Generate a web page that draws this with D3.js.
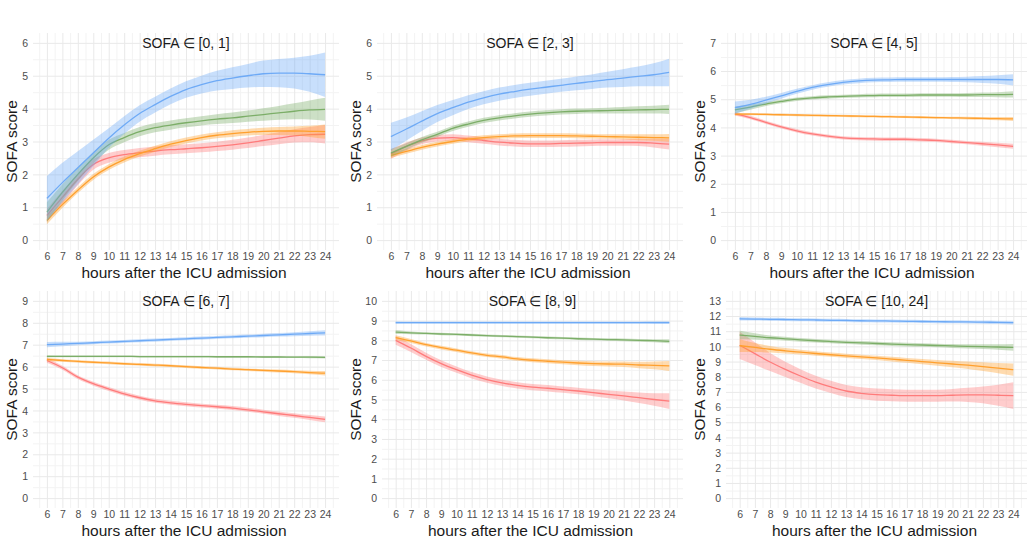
<!DOCTYPE html>
<html>
<head>
<meta charset="utf-8">
<script src="https://cdn.jsdelivr.net/npm/d3@7"></script>
<style>
    body { margin: 0; background: #fff; }
    svg { font-family: "Liberation Sans", Arial, sans-serif; }
</style>
</head>
<body>
<svg id="chart" width="1032" height="542"></svg>
<script>
const hours = [6, 7, 8, 9, 10, 11, 12, 13, 14, 15, 16, 17, 18, 19, 20, 21, 22, 23, 24];
const hourTicks = [6, 7, 8, 9, 10, 11, 12, 13, 14, 15, 16, 17, 18, 19, 20, 21, 22, 23, 24];
const panelTitles = ["SOFA \u2208 [0, 1]", "SOFA \u2208 [2, 3]", "SOFA \u2208 [4, 5]",
                     "SOFA \u2208 [6, 7]", "SOFA \u2208 [8, 9]", "SOFA \u2208 [10, 24]"];
const yMaxes = [6, 6, 7, 9, 10, 13];

// one row per panel, one value per hour
const redMean = [
    [0.75, 1.3, 1.85, 2.3, 2.5, 2.6, 2.66, 2.71, 2.75, 2.78, 2.81, 2.85, 2.9, 2.96, 3.03, 3.1, 3.17, 3.21, 3.22],
    [2.62, 2.85, 3.02, 3.1, 3.12, 3.08, 3.03, 2.98, 2.95, 2.93, 2.93, 2.94, 2.95, 2.96, 2.97, 2.97, 2.97, 2.95, 2.92],
    [4.48, 4.35, 4.18, 4.02, 3.88, 3.77, 3.69, 3.63, 3.6, 3.59, 3.58, 3.58, 3.56, 3.54, 3.5, 3.46, 3.42, 3.38, 3.33],
    [6.28, 5.95, 5.52, 5.22, 4.98, 4.76, 4.58, 4.44, 4.35, 4.28, 4.22, 4.17, 4.11, 4.03, 3.94, 3.85, 3.77, 3.68, 3.59],
    [8.0, 7.61, 7.19, 6.82, 6.51, 6.23, 6.01, 5.84, 5.72, 5.63, 5.57, 5.5, 5.43, 5.35, 5.26, 5.18, 5.09, 5.0, 4.92],
    [10.07, 9.52, 8.97, 8.49, 8.05, 7.65, 7.33, 7.06, 6.91, 6.82, 6.78, 6.75, 6.75, 6.75, 6.78, 6.8, 6.8, 6.78, 6.75]
];
const redCi = [
    [0.2, 0.2, 0.18, 0.16, 0.15, 0.14, 0.14, 0.14, 0.14, 0.14, 0.14, 0.14, 0.15, 0.16, 0.17, 0.18, 0.2, 0.23, 0.28],
    [0.15, 0.12, 0.1, 0.1, 0.1, 0.1, 0.1, 0.1, 0.1, 0.1, 0.1, 0.1, 0.1, 0.1, 0.1, 0.1, 0.11, 0.13, 0.16],
    [0.06, 0.06, 0.06, 0.06, 0.06, 0.06, 0.06, 0.06, 0.06, 0.06, 0.06, 0.06, 0.06, 0.06, 0.06, 0.06, 0.07, 0.08, 0.09],
    [0.1, 0.09, 0.09, 0.09, 0.09, 0.09, 0.09, 0.09, 0.09, 0.09, 0.09, 0.09, 0.09, 0.09, 0.09, 0.1, 0.1, 0.11, 0.13],
    [0.22, 0.2, 0.18, 0.17, 0.16, 0.16, 0.16, 0.16, 0.16, 0.16, 0.16, 0.16, 0.17, 0.18, 0.2, 0.23, 0.27, 0.32, 0.4],
    [0.9, 0.75, 0.6, 0.5, 0.45, 0.42, 0.4, 0.4, 0.4, 0.4, 0.4, 0.4, 0.4, 0.4, 0.42, 0.47, 0.55, 0.7, 0.88]
];
const orangeMean = [
    [0.6, 1.08, 1.52, 1.92, 2.22, 2.45, 2.63, 2.78, 2.92, 3.03, 3.12, 3.19, 3.24, 3.28, 3.31, 3.32, 3.32, 3.31, 3.3],
    [2.58, 2.7, 2.82, 2.92, 3.0, 3.07, 3.12, 3.15, 3.17, 3.18, 3.18, 3.18, 3.17, 3.16, 3.15, 3.14, 3.13, 3.12, 3.11],
    [4.47, 4.47, 4.46, 4.45, 4.44, 4.43, 4.42, 4.41, 4.4, 4.39, 4.38, 4.37, 4.36, 4.35, 4.34, 4.33, 4.32, 4.31, 4.3],
    [6.33, 6.28, 6.24, 6.2, 6.17, 6.13, 6.1, 6.07, 6.04, 6.0, 5.96, 5.93, 5.89, 5.86, 5.83, 5.8, 5.77, 5.73, 5.7],
    [8.14, 7.97, 7.78, 7.63, 7.5, 7.36, 7.24, 7.16, 7.06, 6.99, 6.94, 6.89, 6.85, 6.82, 6.8, 6.79, 6.75, 6.73, 6.7],
    [10.05, 9.93, 9.81, 9.71, 9.62, 9.53, 9.45, 9.38, 9.31, 9.24, 9.16, 9.08, 9.0, 8.92, 8.84, 8.76, 8.67, 8.57, 8.47]
];
const orangeCi = [
    [0.12, 0.1, 0.09, 0.09, 0.09, 0.09, 0.09, 0.09, 0.09, 0.09, 0.09, 0.09, 0.1, 0.1, 0.11, 0.12, 0.14, 0.17, 0.22],
    [0.08, 0.07, 0.07, 0.07, 0.07, 0.07, 0.07, 0.07, 0.07, 0.07, 0.07, 0.07, 0.07, 0.07, 0.07, 0.08, 0.09, 0.1, 0.12],
    [0.05, 0.04, 0.04, 0.04, 0.04, 0.04, 0.04, 0.04, 0.04, 0.04, 0.04, 0.04, 0.04, 0.04, 0.04, 0.05, 0.05, 0.06, 0.07],
    [0.08, 0.06, 0.06, 0.06, 0.06, 0.06, 0.06, 0.06, 0.06, 0.06, 0.06, 0.06, 0.06, 0.06, 0.06, 0.07, 0.07, 0.08, 0.1],
    [0.12, 0.1, 0.09, 0.09, 0.09, 0.09, 0.09, 0.09, 0.09, 0.1, 0.1, 0.1, 0.11, 0.12, 0.13, 0.14, 0.16, 0.2, 0.25],
    [0.42, 0.3, 0.22, 0.18, 0.16, 0.15, 0.14, 0.14, 0.14, 0.14, 0.15, 0.16, 0.17, 0.19, 0.22, 0.25, 0.29, 0.34, 0.4]
];
const greenMean = [
    [0.85, 1.45, 2.0, 2.5, 2.9, 3.12, 3.3, 3.42, 3.5, 3.57, 3.63, 3.68, 3.72, 3.77, 3.82, 3.87, 3.92, 3.96, 3.98],
    [2.65, 2.85, 3.05, 3.22, 3.4, 3.53, 3.64, 3.72, 3.78, 3.83, 3.87, 3.9, 3.92, 3.93, 3.94, 3.95, 3.96, 3.97, 3.98],
    [4.62, 4.72, 4.83, 4.92, 5.0, 5.05, 5.08, 5.1, 5.12, 5.13, 5.14, 5.14, 5.15, 5.15, 5.15, 5.15, 5.16, 5.16, 5.17],
    [6.47, 6.47, 6.47, 6.47, 6.47, 6.47, 6.46, 6.46, 6.46, 6.46, 6.46, 6.45, 6.45, 6.45, 6.44, 6.44, 6.43, 6.43, 6.42],
    [8.42, 8.38, 8.35, 8.32, 8.3, 8.27, 8.24, 8.21, 8.19, 8.16, 8.13, 8.11, 8.08, 8.06, 8.04, 8.02, 8.0, 7.98, 7.95],
    [10.75, 10.66, 10.57, 10.5, 10.43, 10.37, 10.32, 10.27, 10.23, 10.19, 10.15, 10.12, 10.09, 10.06, 10.03, 10.0, 9.98, 9.96, 9.94]
];
const greenCi = [
    [0.3, 0.25, 0.2, 0.17, 0.15, 0.14, 0.14, 0.14, 0.14, 0.14, 0.14, 0.15, 0.16, 0.17, 0.19, 0.21, 0.24, 0.29, 0.35],
    [0.12, 0.1, 0.09, 0.08, 0.08, 0.08, 0.08, 0.08, 0.08, 0.08, 0.08, 0.08, 0.08, 0.08, 0.09, 0.1, 0.11, 0.12, 0.14],
    [0.12, 0.09, 0.07, 0.06, 0.06, 0.06, 0.06, 0.06, 0.06, 0.06, 0.06, 0.06, 0.06, 0.06, 0.06, 0.07, 0.08, 0.09, 0.11],
    [0.05, 0.04, 0.04, 0.04, 0.04, 0.04, 0.04, 0.04, 0.04, 0.04, 0.04, 0.04, 0.04, 0.04, 0.04, 0.04, 0.04, 0.05, 0.05],
    [0.1, 0.07, 0.06, 0.06, 0.06, 0.06, 0.06, 0.06, 0.06, 0.06, 0.06, 0.06, 0.06, 0.06, 0.06, 0.07, 0.07, 0.08, 0.1],
    [0.28, 0.2, 0.15, 0.13, 0.12, 0.12, 0.12, 0.12, 0.12, 0.12, 0.12, 0.12, 0.12, 0.12, 0.13, 0.14, 0.16, 0.18, 0.22]
];
const blueMean = [
    [1.27, 1.75, 2.2, 2.65, 3.1, 3.5, 3.85, 4.12, 4.37, 4.58, 4.73, 4.85, 4.93, 5.0, 5.06, 5.08, 5.08, 5.06, 5.03],
    [3.15, 3.38, 3.62, 3.85, 4.03, 4.2, 4.33, 4.44, 4.52, 4.59, 4.65, 4.71, 4.77, 4.82, 4.88, 4.93, 4.98, 5.03, 5.1],
    [4.7, 4.82, 4.97, 5.12, 5.28, 5.42, 5.52, 5.6, 5.65, 5.68, 5.69, 5.7, 5.7, 5.7, 5.7, 5.7, 5.7, 5.7, 5.69],
    [7.0, 7.03, 7.06, 7.09, 7.12, 7.15, 7.18, 7.21, 7.24, 7.27, 7.3, 7.33, 7.36, 7.39, 7.42, 7.45, 7.48, 7.51, 7.54],
    [8.9, 8.9, 8.9, 8.9, 8.9, 8.9, 8.9, 8.9, 8.9, 8.9, 8.9, 8.9, 8.9, 8.9, 8.9, 8.9, 8.9, 8.9, 8.9],
    [11.82, 11.8, 11.78, 11.77, 11.75, 11.74, 11.72, 11.71, 11.69, 11.68, 11.67, 11.65, 11.64, 11.63, 11.62, 11.61, 11.6, 11.58, 11.57]
];
const blueCi = [
    [0.68, 0.6, 0.5, 0.4, 0.3, 0.27, 0.25, 0.24, 0.24, 0.25, 0.27, 0.3, 0.33, 0.36, 0.4, 0.43, 0.47, 0.55, 0.68],
    [0.42, 0.35, 0.3, 0.26, 0.23, 0.21, 0.2, 0.2, 0.2, 0.2, 0.2, 0.2, 0.21, 0.22, 0.24, 0.27, 0.3, 0.35, 0.42],
    [0.22, 0.16, 0.12, 0.1, 0.09, 0.08, 0.08, 0.08, 0.08, 0.08, 0.08, 0.08, 0.08, 0.08, 0.09, 0.1, 0.12, 0.15, 0.2],
    [0.12, 0.1, 0.08, 0.07, 0.07, 0.07, 0.07, 0.07, 0.07, 0.07, 0.07, 0.07, 0.07, 0.07, 0.08, 0.08, 0.09, 0.1, 0.12],
    [0.07, 0.06, 0.06, 0.06, 0.06, 0.06, 0.06, 0.06, 0.06, 0.06, 0.06, 0.06, 0.06, 0.06, 0.06, 0.06, 0.06, 0.07, 0.07],
    [0.12, 0.1, 0.1, 0.1, 0.1, 0.1, 0.1, 0.1, 0.1, 0.1, 0.1, 0.1, 0.1, 0.1, 0.1, 0.1, 0.1, 0.11, 0.12]
];

const series = [
    { mean: redMean, ci: redCi, colour: "#ff7b7b" },
    { mean: orangeMean, ci: orangeCi, colour: "#ffa02e" },
    { mean: greenMean, ci: greenCi, colour: "#7cae68" },
    { mean: blueMean, ci: blueCi, colour: "#6eaaf6" }
];

const svg = d3.select("#chart");
const panelWidth = 344;
const panelHeight = 258;

const drawPanel = (i) => {
    const col = i % 3;
    const row = Math.floor(i / 3);
    const ox = col * panelWidth;
    const oy = row * panelHeight;
    const yMax = yMaxes[i];

    const left = ox + (yMax >= 10 ? 38 : 33);
    const right = ox + 339;
    const top = oy + 33;
    const bottom = oy + 250;

    const xScale = d3.scaleLinear()
        .domain([5.1, 24.9])
        .range([left, right]);
    const yScale = d3.scaleLinear()
        .domain([-0.05 * yMax, 1.05 * yMax])
        .range([bottom, top]);

    const g = svg.append("g").attr("class", "panel");

    // grid: minor first, then major
    const xMinor = hourTicks.map(h => h - 0.5).concat([24.5]);
    const yMajor = d3.range(0, yMax + 1);
    const yMinor = yMajor.slice(0, -1).map(v => v + 0.5);

    g.append("g")
        .attr("transform", `translate(0, ${bottom})`)
        .call(d3.axisBottom(xScale).tickValues(xMinor).tickSize(-(bottom - top)).tickFormat(""))
        .call(a => a.select(".domain").remove())
        .call(a => a.selectAll("line").attr("stroke", "#f3f3f3"));
    g.append("g")
        .attr("transform", `translate(${left}, 0)`)
        .call(d3.axisLeft(yScale).tickValues(yMinor).tickSize(-(right - left)).tickFormat(""))
        .call(a => a.select(".domain").remove())
        .call(a => a.selectAll("line").attr("stroke", "#f3f3f3"));

    const xAxisG = g.append("g")
        .attr("class", "axis x-axis")
        .attr("transform", `translate(0, ${bottom})`)
        .call(d3.axisBottom(xScale).tickValues(hourTicks).tickSize(-(bottom - top)).tickPadding(3).tickFormat(d3.format("d")));
    const yAxisG = g.append("g")
        .attr("class", "axis y-axis")
        .attr("transform", `translate(${left}, 0)`)
        .call(d3.axisLeft(yScale).tickValues(yMajor).tickSize(-(right - left)).tickPadding(5).tickFormat(d3.format("d")));

    [xAxisG, yAxisG].forEach(a => {
        a.select(".domain").remove();
        a.selectAll("line").attr("stroke", "#e9e9e9");
        a.selectAll("text")
            .attr("fill", "#4d4d4d")
            .attr("font-size", 10.5)
            .attr("font-family", "Liberation Sans, Arial, sans-serif");
    });
    yAxisG.selectAll("text").attr("dy", "0.35em");

    // ribbons and lines
    series.forEach(s => {
        const pts = hours.map((h, k) => ({ h: h, m: s.mean[i][k], c: s.ci[i][k] }));
        const area = d3.area()
            .x(d => xScale(d.h))
            .y0(d => yScale(d.m - d.c))
            .y1(d => yScale(d.m + d.c))
            .curve(d3.curveMonotoneX);
        const line = d3.line()
            .x(d => xScale(d.h))
            .y(d => yScale(d.m))
            .curve(d3.curveMonotoneX);
        g.append("path")
            .attr("d", area(pts))
            .attr("fill", s.colour)
            .attr("fill-opacity", 0.38);
        g.append("path")
            .attr("d", line(pts))
            .attr("fill", "none")
            .attr("stroke", s.colour)
            .attr("stroke-width", 1.3);
    });

    g.append("text")
        .attr("x", (left + right) / 2)
        .attr("y", oy + 48)
        .attr("text-anchor", "middle")
        .attr("font-size", 14)
        .attr("fill", "#1a1a1a")
        .text(panelTitles[i]);

    g.append("text")
        .attr("x", (left + right) / 2 - 2)
        .attr("y", oy + 278)
        .attr("text-anchor", "middle")
        .attr("font-size", 15.5)
        .attr("fill", "#1a1a1a")
        .text("hours after the ICU admission");

    g.append("text")
        .attr("transform", `rotate(-90)`)
        .attr("x", -(top + bottom) / 2)
        .attr("y", ox + 17)
        .attr("text-anchor", "middle")
        .attr("font-size", 15.5)
        .attr("fill", "#1a1a1a")
        .text("SOFA score");
};

d3.range(6).forEach(drawPanel);
</script>
</body>
</html>
